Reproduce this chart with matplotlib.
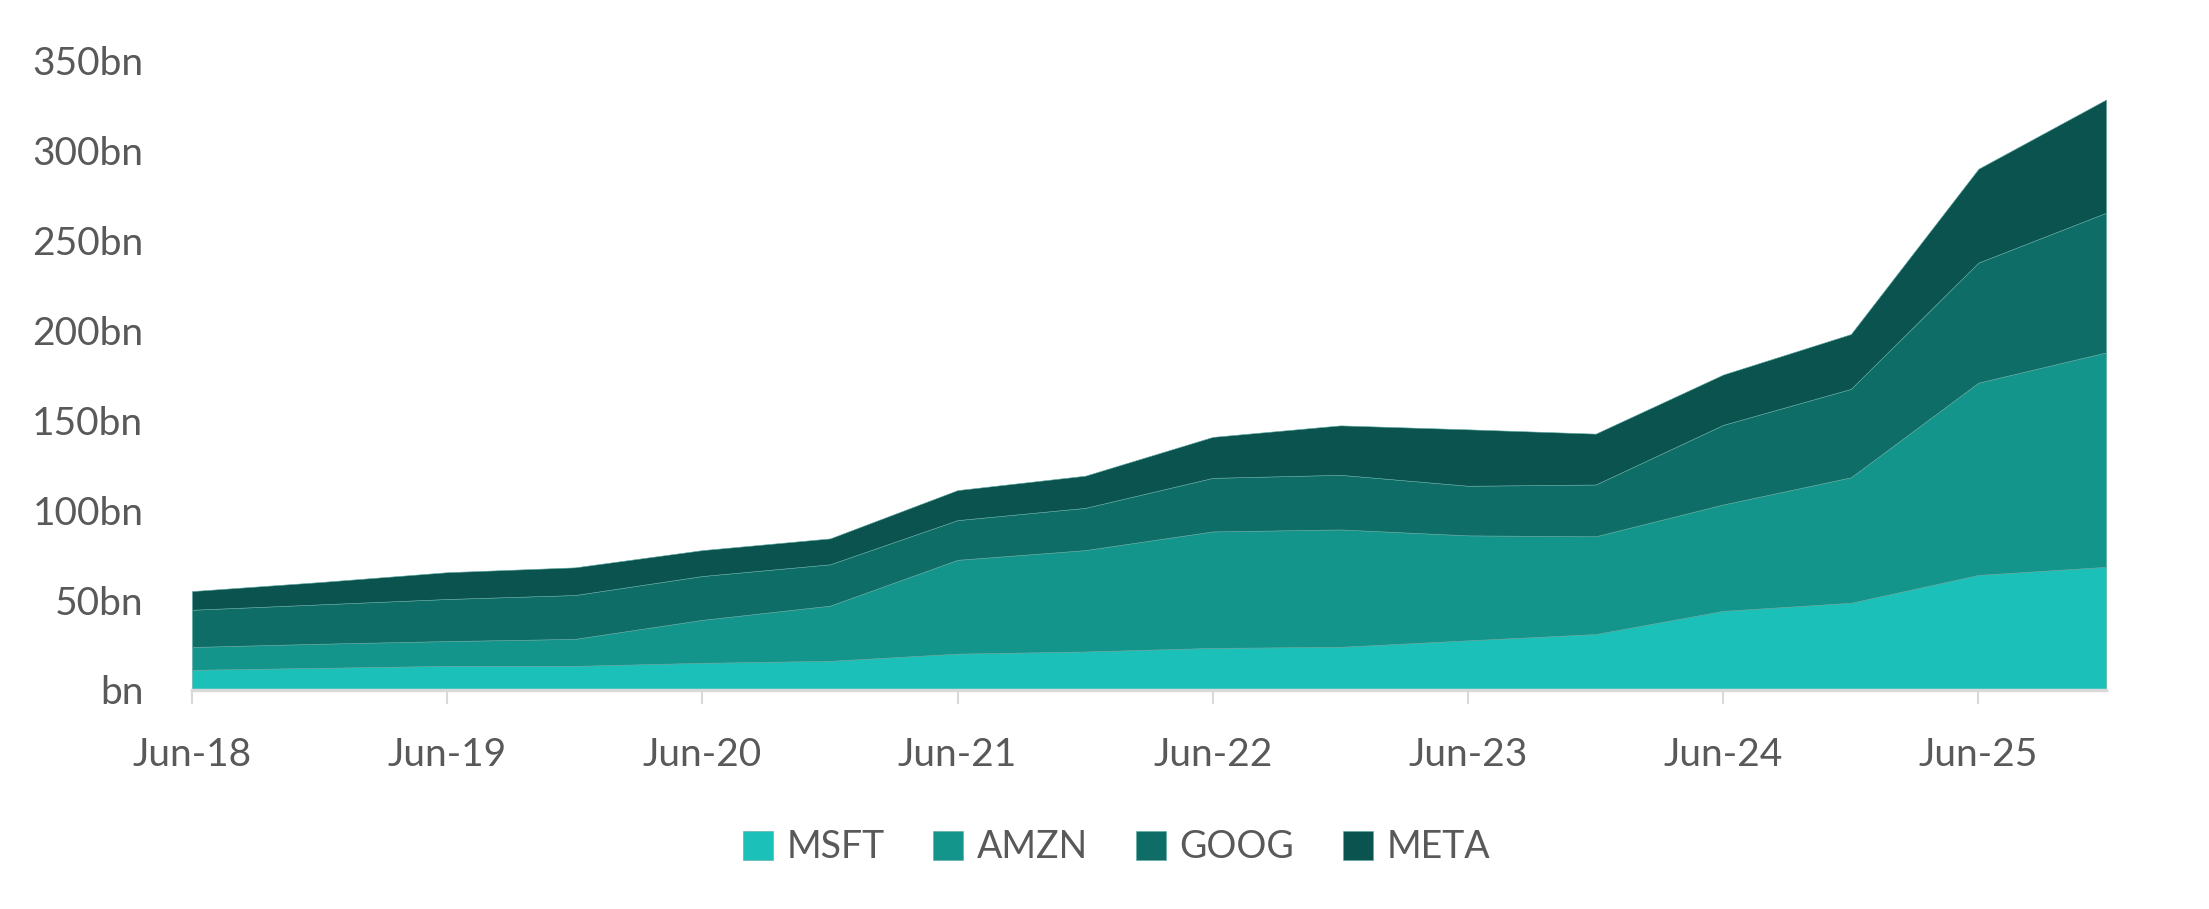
import numpy as np
import matplotlib
matplotlib.use("Agg")
import matplotlib.pyplot as plt

plt.rcParams['font.family'] = ['Lato', 'DejaVu Sans']

# half-year points, Jun-18 .. Dec-25
periods = ['Jun-18', 'Dec-18', 'Jun-19', 'Dec-19', 'Jun-20', 'Dec-20', 'Jun-21', 'Dec-21',
           'Jun-22', 'Dec-22', 'Jun-23', 'Dec-23', 'Jun-24', 'Dec-24', 'Jun-25', 'Dec-25']
tick_labels = ['Jun-18', 'Jun-19', 'Jun-20', 'Jun-21', 'Jun-22', 'Jun-23', 'Jun-24', 'Jun-25']

msft = [11.2, 12.3, 13.4, 13.4, 15.1, 16.2, 20.2, 21.4, 23.4, 24.0, 27.6, 31.1, 44.0, 48.5, 64.0, 68.5]
amzn = [12.7, 13.4, 13.8, 15.0, 23.9, 30.7, 52.2, 56.4, 64.8, 65.3, 58.4, 54.4, 59.2, 69.8, 107.0, 119.3]
goog = [20.7, 21.9, 23.4, 24.4, 24.4, 23.0, 22.1, 23.5, 29.8, 30.4, 27.6, 28.8, 44.3, 49.2, 66.8, 77.7]
meta = [10.4, 12.4, 14.9, 15.4, 14.4, 14.4, 16.7, 17.9, 22.8, 27.5, 31.4, 28.3, 28.0, 30.5, 52.2, 63.0]

names = ['MSFT', 'AMZN', 'GOOG', 'META']
colors = ['#1bc1b8', '#14958b', '#0e6e67', '#0b534f']
text_col = '#595959'

fig = plt.figure(figsize=(22.09, 9.09), dpi=100)
ax = fig.add_axes([0.0869, 0.241, 0.8665, 0.692])

x = np.arange(len(periods))
ax.stackplot(x, msft, amzn, goog, meta, labels=names, colors=colors,
             edgecolor='#5fa8a2', linewidth=0.4)

ax.set_xlim(0, len(periods) - 1)
ax.set_ylim(0, 350)

yt = np.arange(0, 351, 50)
ax.set_yticks(yt)
ax.set_yticklabels(['bn' if v == 0 else f'{v}bn' for v in yt])
ax.tick_params(axis='y', length=0, pad=35, labelsize=28, labelcolor=text_col)

tick_pos = [periods.index(t) for t in tick_labels]
ax.set_xticks(tick_pos)
ax.set_xticklabels(tick_labels)
ax.tick_params(axis='x', length=10, width=1.5, color='#d9d9d9', pad=24,
               labelsize=28, labelcolor=text_col)

for s in ['top', 'right', 'left']:
    ax.spines[s].set_visible(False)
ax.spines['bottom'].set_color('#d9d9d9')
ax.spines['bottom'].set_linewidth(2.5)
ax.set_axisbelow(False)

fig.legend(loc='center', bbox_to_anchor=(0.5055, 0.068), ncol=4, frameon=False,
           fontsize=27, labelcolor=text_col, handlelength=0.8, handleheight=0.8,
           handletextpad=0.35, columnspacing=1.3)

fig.savefig('out.png', dpi=100, facecolor='white')
